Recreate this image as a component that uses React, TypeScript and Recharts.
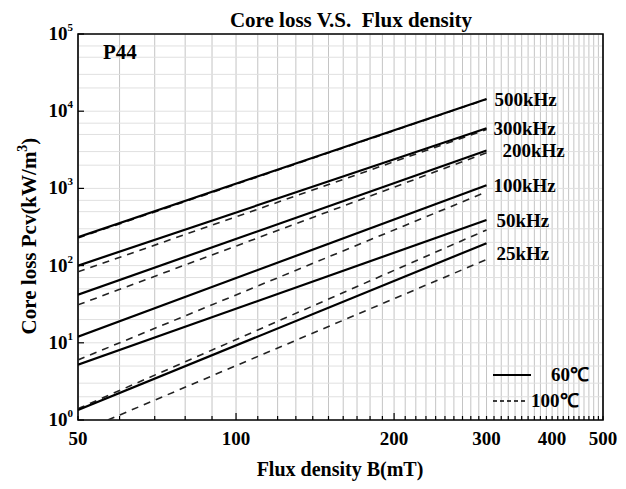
import React from 'react';
import { LineChart, Line, XAxis, YAxis, CartesianGrid, ReferenceArea, LabelList } from 'recharts';

const frequencies = ['500kHz', '300kHz', '200kHz', '100kHz', '50kHz', '25kHz'];

// 60℃ (solid), Pcv read at B = 50 mT and B = 300 mT
const loss60Start = [234, 100, 42, 12, 5.2, 1.35];
const loss60End = [14400, 6000, 3100, 1100, 390, 195];

// 100℃ (dashed); the 25kHz curve enters the frame at about 57 mT
const flux100Start = [50, 50, 50, 50, 50, 57];
const loss100Start = [228, 83, 31, 6.0, 1.4, 1.0];
const loss100End = [14300, 5800, 2900, 900, 290, 120];

const fluxEnd = 300;

const xLabels = [50, 100, 200, 300, 400, 500];
const xGrid = Array.from({ length: 46 }, (_, i) => 50 + i * 10);
const yDecades = [1, 10, 100, 1000, 10000, 100000];
const yGrid = yDecades.slice(0, -1).flatMap((d) => [1, 2, 3, 5, 7].map((m) => m * d)).concat([100000]);

const W = 626;
const H = 489;
const FONT = '"Liberation Serif", "Times New Roman", serif';

// label nudges relative to the 300 mT end point of each solid curve
const labelNudge = [
  { dx: 8, dy: 7 },
  { dx: 7, dy: 7 },
  { dx: 16, dy: 7 },
  { dx: 7, dy: 7 },
  { dx: 10, dy: 7 },
  { dx: 10, dy: 17 },
];

const solidData = frequencies.map((_, i) => [
  { b: 50, pcv: loss60Start[i] },
  { b: fluxEnd, pcv: loss60End[i] },
]);
const dashedData = frequencies.map((_, i) => [
  { b: flux100Start[i], pcv: loss100Start[i] },
  { b: fluxEnd, pcv: loss100End[i] },
]);

const XTick = (props: any) => {
  const { x, y, payload } = props;
  const v = payload.value;
  const major = xLabels.includes(v);
  const long = v === 100 || v === 200;
  return (
    <g>
      <line x1={x} x2={x} y1={y} y2={y - (long ? 7 : 4)} stroke="#000" strokeWidth={1.2} />
      {major && (
        <text x={x} y={y + 25} textAnchor="middle" fontFamily={FONT} fontWeight="bold" fontSize={19} fill="#000">
          {v}
        </text>
      )}
    </g>
  );
};

const YTick = (props: any) => {
  const { x, y, payload } = props;
  const v = payload.value;
  const exp = Math.round(Math.log10(v));
  if (Math.abs(Math.pow(10, exp) - v) > 1e-6) return <g />;
  return (
    <g>
      <line x1={x} x2={x + 6} y1={y} y2={y} stroke="#000" strokeWidth={1.2} />
      <text x={x - 5} y={y + 6} textAnchor="end" fontFamily={FONT} fontWeight="bold" fontSize={19} fill="#000">
        10
        <tspan dy={-9} fontSize={11}>
          {exp}
        </tspan>
      </text>
    </g>
  );
};

const App = () => {
  return (
    <div style={{ position: 'absolute', left: 0, top: 0, width: W, height: H, background: '#fff' }}>
      <LineChart width={W} height={H} margin={{ top: 34, right: 23, left: 18, bottom: 29 }}>
        <CartesianGrid stroke="#c4c4c4" strokeWidth={1} horizontal={false} />
        <CartesianGrid stroke="#e0e0e0" strokeWidth={1} vertical={false} />
        <XAxis
          dataKey="b"
          type="number"
          scale="log"
          domain={[50, 500]}
          allowDataOverflow
          ticks={xGrid}
          interval={0}
          tick={<XTick />}
          tickSize={0}
          tickMargin={0}
          tickLine={false}
          axisLine={false}
          height={40}
        />
        <YAxis
          type="number"
          scale="log"
          domain={[1, 100000]}
          allowDataOverflow
          ticks={yGrid}
          interval={0}
          tick={<YTick />}
          tickSize={0}
          tickMargin={0}
          tickLine={false}
          axisLine={false}
          width={60}
        />
        <ReferenceArea x1={50} x2={500} y1={1} y2={100000} fill="none" stroke="#000" strokeWidth={1.6} ifOverflow="visible" />
        {dashedData.map((d, i) => (
          <Line
            key={'d' + i}
            data={d}
            dataKey="pcv"
            stroke="#222"
            strokeWidth={1.6}
            strokeDasharray="7 6"
            dot={false}
            isAnimationActive={false}
          />
        ))}
        {solidData.map((d, i) => (
          <Line
            key={'s' + i}
            data={d}
            dataKey="pcv"
            stroke="#000"
            strokeWidth={2.2}
            dot={false}
            isAnimationActive={false}
          >
            <LabelList
              dataKey="pcv"
              content={(p: any) =>
                p.index === 1 ? (
                  <text
                    x={p.x + labelNudge[i].dx}
                    y={p.y + labelNudge[i].dy}
                    fontFamily={FONT}
                    fontWeight="bold"
                    fontSize={19}
                    fill="#000"
                  >
                    {frequencies[i]}
                  </text>
                ) : null
              }
            />
          </Line>
        ))}
      </LineChart>
      <svg width={W} height={H} style={{ position: 'absolute', left: 0, top: 0, pointerEvents: 'none' }}>
        <g fontFamily={FONT} fontWeight="bold" fill="#000">
          <text x={351} y={27} textAnchor="middle" fontSize={21} style={{ whiteSpace: 'pre' }}>
            {'Core loss V.S.  Flux density'}
          </text>
          <text x={103} y={59} fontSize={21}>
            P44
          </text>
          <text x={340} y={476} textAnchor="middle" fontSize={20}>
            Flux density B(mT)
          </text>
          <text x={36} y={236} textAnchor="middle" fontSize={21} transform="rotate(-90, 36, 236)">
            Core loss Pcv(kW/m
            <tspan dy={-9} fontSize={14}>
              3
            </tspan>
            <tspan dy={9}>)</tspan>
          </text>
          <line x1={493} x2={531} y1={375} y2={375} stroke="#000" strokeWidth={2} />
          <text x={551} y={381} fontSize={19}>
            60℃
          </text>
          <line x1={493} x2={526} y1={401} y2={401} stroke="#000" strokeWidth={1.6} strokeDasharray="4 3" />
          <text x={531} y={407} fontSize={19}>
            100℃
          </text>
        </g>
      </svg>
    </div>
  );
};

export default App;
